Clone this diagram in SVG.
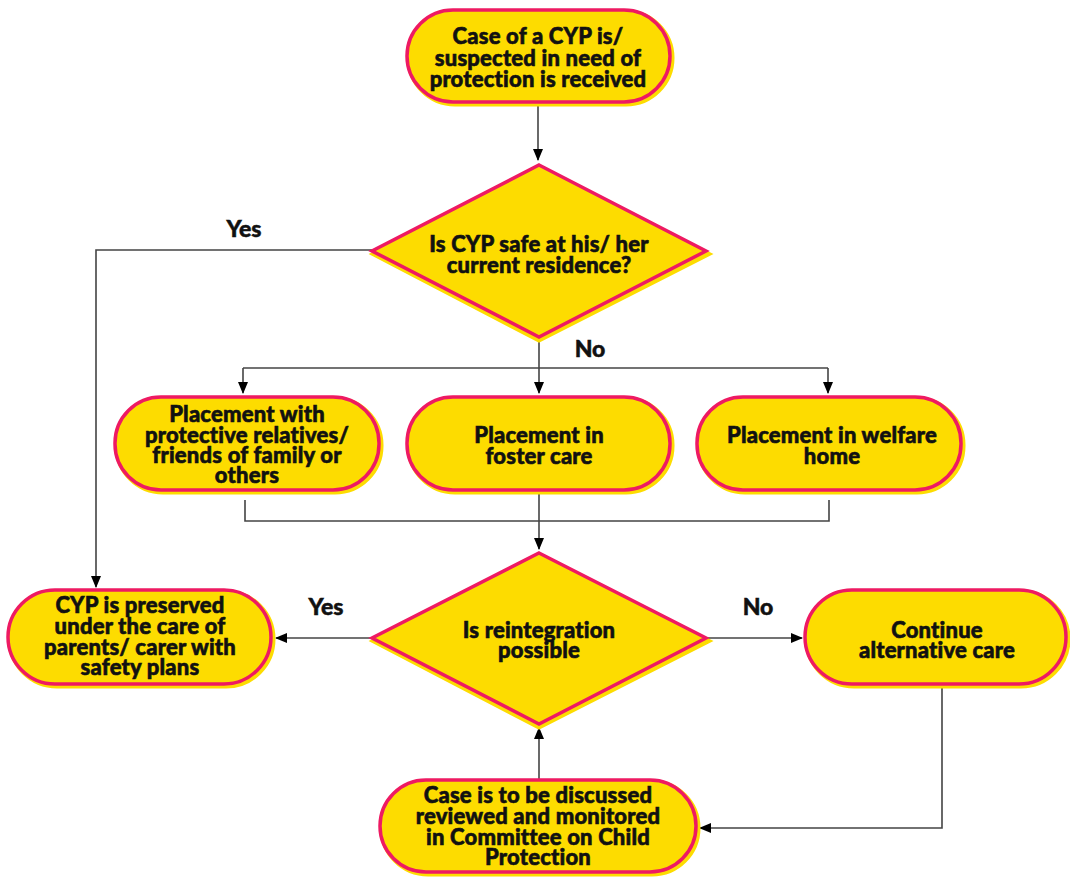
<svg xmlns="http://www.w3.org/2000/svg" width="1070" height="877" viewBox="0 0 1070 877">
<style>
.sh{fill:#FDDC00;stroke:#FDDC00;stroke-width:5}
.nd{fill:#FDDC00;stroke:#EE1A62;stroke-width:3.5}
.t{font-family:Lato,"Open Sans","Liberation Sans",sans-serif;font-weight:900;font-size:22px;letter-spacing:0.2px;fill:#111;stroke:#111;stroke-width:0.6px;text-anchor:middle}
.lb{font-family:Lato,"Open Sans","Liberation Sans",sans-serif;font-weight:900;font-size:23px;fill:#111;stroke:#111;stroke-width:0.5px;text-anchor:middle}
.ln{fill:none;stroke:#444;stroke-width:1.6}
</style>
<defs>
<marker id="ar" markerWidth="12" markerHeight="16" refX="11" refY="5" orient="auto" markerUnits="userSpaceOnUse" viewBox="0 0 12 10">
<path d="M0,0 L12,5 L0,10 Z" fill="#000"/>
</marker>
</defs>
<g id="connectors">
<path class="ln" d="M538,104 V160" marker-end="url(#ar)"/>
<path class="ln" d="M372,250 H96 V587" marker-end="url(#ar)"/>
<path class="ln" d="M539,338 V393" marker-end="url(#ar)"/>
<path class="ln" d="M243,368 H828"/>
<path class="ln" d="M243,368 V393" marker-end="url(#ar)"/>
<path class="ln" d="M828,368 V393" marker-end="url(#ar)"/>
<path class="ln" d="M245,500 V521 H829 V500"/>
<path class="ln" d="M539,492 V549" marker-end="url(#ar)"/>
<path class="ln" d="M372,638 H276" marker-end="url(#ar)"/>
<path class="ln" d="M707,638 H802" marker-end="url(#ar)"/>
<path class="ln" d="M539,779 V728" marker-end="url(#ar)"/>
<path class="ln" d="M942,688 V828 H700" marker-end="url(#ar)"/>
<text class="lb" x="244" y="237">Yes</text>
<text class="lb" x="590" y="357">No</text>
<text class="lb" x="326" y="615">Yes</text>
<text class="lb" x="758" y="615">No</text>
</g>
<g id="n1">
<rect class="sh" x="409" y="12" width="263" height="92" rx="46"/>
<rect class="nd" x="407" y="10" width="263" height="92" rx="46"/>
<text class="t" x="538" y="44">Case of a CYP is/<tspan x="538" dy="22">suspected in need of</tspan><tspan x="538" dy="21">protection is received</tspan></text>
</g>
<g id="d1">
<polygon class="sh" points="539,168 708,254 539,340 374,254"/>
<polygon class="nd" points="539,165 706,251 539,337 372,251"/>
<text class="t" x="539" y="252">Is CYP safe at his/ her<tspan x="539" dy="21">current residence?</tspan></text>
</g>
<g id="n2">
<rect class="sh" x="117" y="399" width="264" height="93" rx="46"/>
<rect class="nd" x="115" y="397" width="264" height="93" rx="46"/>
<text class="t" x="247" y="422">Placement with<tspan x="247" dy="21">protective relatives/</tspan><tspan x="247" dy="20">friends of family or</tspan><tspan x="247" dy="20">others</tspan></text>
</g>
<g id="n3">
<rect class="sh" x="409" y="399" width="263" height="93" rx="46"/>
<rect class="nd" x="407" y="397" width="263" height="93" rx="46"/>
<text class="t" x="539" y="443">Placement in<tspan x="539" dy="21">foster care</tspan></text>
</g>
<g id="n4">
<rect class="sh" x="699" y="399" width="264" height="93" rx="46"/>
<rect class="nd" x="697" y="397" width="264" height="93" rx="46"/>
<text class="t" x="832" y="443">Placement in welfare<tspan x="832" dy="21">home</tspan></text>
</g>
<g id="d2">
<polygon class="sh" points="539,556 708,641 539,727 374,641"/>
<polygon class="nd" points="539,553 706,638 539,724 372,638"/>
<text class="t" x="539" y="638">Is reintegration<tspan x="539" dy="20">possible</tspan></text>
</g>
<g id="n5">
<rect class="sh" x="10" y="592" width="263" height="94" rx="47"/>
<rect class="nd" x="8" y="590" width="263" height="94" rx="47"/>
<text class="t" x="140" y="613">CYP is preserved<tspan x="140" dy="21">under the care of</tspan><tspan x="140" dy="21">parents/ carer with</tspan><tspan x="140" dy="20">safety plans</tspan></text>
</g>
<g id="n6">
<rect class="sh" x="807" y="592" width="261" height="94" rx="47"/>
<rect class="nd" x="805" y="590" width="261" height="94" rx="47"/>
<text class="t" x="937" y="638">Continue<tspan x="937" dy="20">alternative care</tspan></text>
</g>
<g id="n7">
<rect class="sh" x="382" y="782" width="316" height="92" rx="46"/>
<rect class="nd" x="380" y="780" width="316" height="92" rx="46"/>
<text class="t" x="538" y="803">Case is to be discussed<tspan x="538" dy="21">reviewed and monitored</tspan><tspan x="538" dy="21">in Committee on Child</tspan><tspan x="538" dy="20">Protection</tspan></text>
</g>
</svg>
